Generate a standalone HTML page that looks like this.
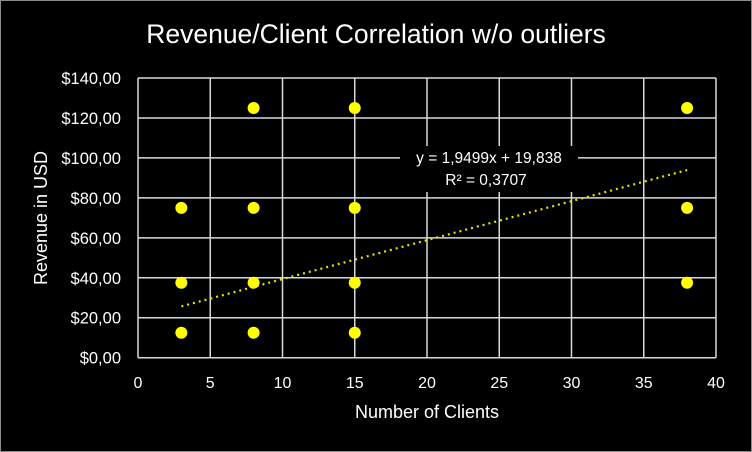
<!DOCTYPE html>
<html><head><meta charset="utf-8"><style>
html,body{margin:0;padding:0;background:#000}
svg{display:block;font-family:"Liberation Sans",sans-serif}
</style></head><body>
<svg id="chart" width="752" height="452" viewBox="0 0 752 452">
<rect x="0.5" y="0.5" width="751" height="451" fill="#000" stroke="#8c8c8c"/>
<text x="376" y="43" text-anchor="middle" font-size="26.5" fill="#fff">Revenue/Client Correlation w/o outliers</text>
<g id="grid"></g>
<g id="ticks"></g>
<path id="trend" fill="none" stroke="#e6e600" stroke-width="2.2" stroke-dasharray="2 4"/>
<g id="points"></g>
<rect x="400" y="146" width="178" height="46" fill="#000"/>
<text x="489" y="163" text-anchor="middle" font-size="15.5" fill="#fff">y = 1,9499x + 19,838</text>
<text x="486" y="185" text-anchor="middle" font-size="15.5" fill="#fff">R² = 0,3707</text>
<text x="427" y="418" text-anchor="middle" font-size="18" fill="#fff">Number of Clients</text>
<text transform="translate(47,218) rotate(-90)" text-anchor="middle" font-size="18" fill="#fff">Revenue in USD</text>
</svg>
<script>
const xValues=[3,3,3,8,8,8,8,15,15,15,15,38,38,38];
const yValues=[12.5,37.5,75,12.5,37.5,75,125,12.5,37.5,75,125,37.5,75,125];
const xTicks=[0,5,10,15,20,25,30,35,40];
const yTicks=[0,20,40,60,80,100,120,140];
const slope=1.9499, intercept=19.838;
const ns="http://www.w3.org/2000/svg";
const X=v=>138+v*(716-138)/40;
const Y=v=>357.7-v*(357.7-78)/140;
function mk(t,a,p){const e=document.createElementNS(ns,t);for(const k in a)e.setAttribute(k,a[k]);p.appendChild(e);return e;}
const g=document.getElementById('grid'),tk=document.getElementById('ticks'),pts=document.getElementById('points');
xTicks.forEach(v=>{
 const l=mk('line',{x1:X(v),x2:X(v),y1:Y(140),y2:Y(0),stroke:'#d9d9d9','stroke-width':1.5},g);
 
 
 const t=mk('text',{x:X(v),y:388,'text-anchor':'middle','font-size':16,fill:'#fff'},tk);t.textContent=v;
 
 
});
yTicks.forEach(v=>{
 const l=mk('line',{x1:X(0),x2:X(40),y1:Y(v),y2:Y(v),stroke:'#d9d9d9','stroke-width':1.5},g);
 
 
 const t=mk('text',{x:121,y:Y(v)+6,'text-anchor':'end','font-size':16.5,fill:'#fff'},tk);t.textContent='$'+v+',00';
 
 
});
const xmin=Math.min(...xValues),xmax=Math.max(...xValues);
document.getElementById('trend').setAttribute('d',`M${X(xmin)},${Y(slope*xmin+intercept)}L${X(xmax)},${Y(slope*xmax+intercept)}`);
xValues.forEach((xv,i)=>{
 const c=mk('circle',{cx:X(xv),cy:Y(yValues[i]),r:6,fill:'#ffff00'},pts);
 
 
});
</script>
</body></html>
